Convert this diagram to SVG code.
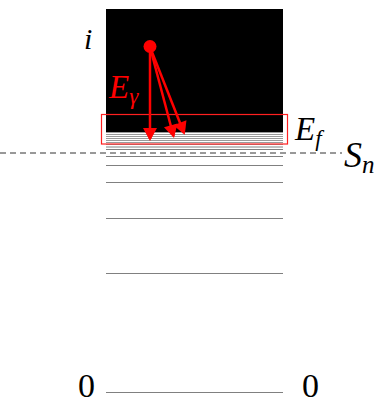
<svg xmlns="http://www.w3.org/2000/svg" width="385" height="403" viewBox="0 0 385 403">
<style>
.lv{stroke:#808080;stroke-width:1}
.dl{stroke:#9a9a9a;stroke-width:1}
.ar{stroke:#ff0000;stroke-width:2.5;fill:none;marker-end:url(#ah)}
</style>
<defs>
<marker id="ah" markerUnits="userSpaceOnUse" markerWidth="14" markerHeight="14" refX="11" refY="7" orient="auto" viewBox="0 0 13 14">
<path d="M0,0 L13,7 L0,14 z" fill="#ff0000"/>
</marker>
</defs>
<rect width="385" height="403" fill="#ffffff"/>
<g id="continuum">
<rect x="106" y="9" width="177" height="123" fill="#000000"/>
<g class="dl">
<line x1="106" y1="132.5" x2="283" y2="132.5"/>
<line x1="106" y1="134.5" x2="283" y2="134.5"/>
<line x1="106" y1="136.5" x2="283" y2="136.5"/>
<line x1="106" y1="138.5" x2="283" y2="138.5"/>
<line x1="106" y1="140.5" x2="283" y2="140.5"/>
<line x1="106" y1="142.5" x2="283" y2="142.5"/>
<line x1="106" y1="144.5" x2="283" y2="144.5"/>
</g>
</g>
<g id="levels" class="lv">
<line x1="106" y1="147" x2="283" y2="147"/>
<line x1="106" y1="149.5" x2="283" y2="149.5"/>
<line x1="106" y1="156.5" x2="283" y2="156.5"/>
<line x1="106" y1="165.5" x2="283" y2="165.5"/>
<line x1="106" y1="182.5" x2="283" y2="182.5"/>
<line x1="106" y1="218.5" x2="283" y2="218.5"/>
<line x1="106" y1="273.5" x2="283" y2="273.5"/>
<line x1="106" y1="392.5" x2="283" y2="392.5"/>
</g>
<g id="sn-line">
<line x1="0" y1="153" x2="342" y2="153" stroke="#333333" stroke-width="1" stroke-dasharray="6,4"/>
</g>
<g id="ef-box">
<rect x="101.5" y="114.5" width="186" height="29.5" fill="none" stroke="#ff2020" stroke-width="1.2"/>
</g>
<g id="connectors">
<line class="ar" x1="150" y1="47" x2="150" y2="139"/>
<line class="ar" x1="150" y1="47" x2="173.5" y2="136"/>
<line class="ar" x1="150" y1="47" x2="184" y2="133"/>
</g>
<g id="initial">
<circle cx="150" cy="46.5" r="6.5" fill="#ff0000"/>
</g>
<g id="labels" font-family="Liberation Serif, serif">
<text font-style="italic" x="84" y="49" font-size="30">i</text>
<text font-style="italic" x="109" y="98" font-size="33" fill="#ff0000">E<tspan font-size="23" dy="6">γ</tspan></text>
<text font-style="italic" x="295" y="140" font-size="33">E<tspan font-size="23" dy="6">f</tspan></text>
<text font-style="italic" x="344" y="167" font-size="36">S<tspan font-size="25" dy="6">n</tspan></text>
<text x="78" y="397" font-size="34">0</text>
<text x="302" y="397" font-size="34">0</text>
</g>
</svg>
